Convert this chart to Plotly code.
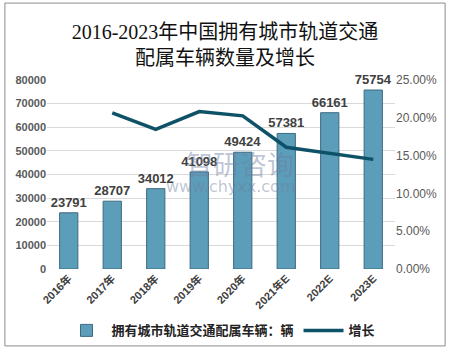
import plotly.graph_objects as go

categories = ["2016年", "2017年", "2018年", "2019年", "2020年", "2021年E", "2022E", "2023E"]
vehicles = [23791, 28707, 34012, 41098, 49424, 57381, 66161, 75754]
growth = [None, 0.2066, 0.1848, 0.2083, 0.2026, 0.1610, 0.1530, 0.1450]

bar_name = "拥有城市轨道交通配属车辆：辆"
line_name = "增长"
title = "2016-2023年中国拥有城市轨道交通<br>配属车辆数量及增长"

fig = go.Figure()
fig.add_trace(go.Bar(
    x=categories, y=vehicles, name=bar_name,
    marker=dict(color="#5c9dba", line=dict(color="#3d6b80", width=1)),
    text=[str(v) for v in vehicles], textposition="outside", constraintext="none",
    textfont=dict(size=13, color="#404040", family="Liberation Sans", weight="bold"),
    cliponaxis=False, width=0.42,
))
fig.add_trace(go.Scatter(
    x=categories, y=growth, name=line_name, yaxis="y2", mode="lines",
    line=dict(color="#0e5268", width=3.5),
))

# watermark
fig.add_annotation(x=0.555, y=0.556, xref="paper", yref="paper", text="智研咨询",
                   showarrow=False, font=dict(size=27, color="rgba(110,125,160,0.45)", family="Noto Sans CJK SC"))
fig.add_annotation(x=0.526, y=0.434, xref="paper", yref="paper", text="www.chyxx.com",
                   showarrow=False, font=dict(size=16, color="rgba(110,125,160,0.45)", family="DejaVu Sans"))

fig.update_layout(
    width=450, height=350, autosize=False,
    margin=dict(l=47, r=55, t=80, b=81, autoexpand=False),
    paper_bgcolor="white", plot_bgcolor="white",
    title=dict(text=title, x=0.5, xanchor="center", y=0.888, yanchor="top",
               font=dict(size=20, color="#111111", family="Liberation Serif, Noto Sans CJK SC")),
    xaxis=dict(tickangle=-45, tickfont=dict(size=11, color="#404040", family="Liberation Sans, Noto Sans CJK SC", weight="bold"),
               showline=False, ticks="", automargin=False),
    yaxis=dict(range=[0, 80000], dtick=10000, tickformat="d", gridcolor="#d9d9d9", zeroline=False,
               tickfont=dict(size=11, color="#595959", family="Liberation Sans", weight="bold"), showline=False,
               automargin=False),
    yaxis2=dict(range=[0, 0.25], dtick=0.05, tickformat=".2%", overlaying="y", side="right",
                showgrid=False, zeroline=False, automargin=False,
                tickfont=dict(size=12, color="#595959", family="Liberation Sans")),
    legend=dict(orientation="h", x=0.5, xanchor="center", y=-0.325, yanchor="middle",
                font=dict(size=13, color="#222222", family="Noto Sans CJK SC", weight="bold"),
                itemwidth=40, tracegroupgap=0),
    bargap=0.58,
    showlegend=True,
    shapes=[dict(type="rect", xref="paper", yref="paper", x0=-0.121, x1=1.144, y0=-0.407, y1=1.407,
                 line=dict(color="#8c8c8c", width=1))],
)
fig.write_html("out.html")
